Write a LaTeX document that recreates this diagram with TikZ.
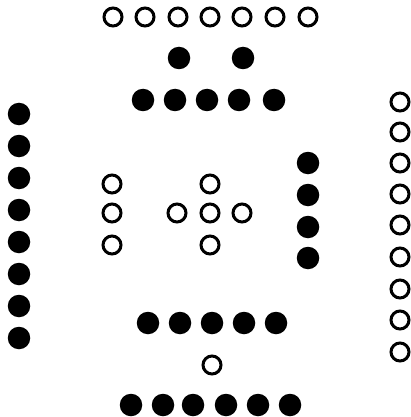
\documentclass[tikz,border=0pt]{standalone}
\begin{document}
\begin{tikzpicture}[x=1pt,y=-1pt,
  full/.style={circle,fill=black,inner sep=0pt,minimum size=22.5pt},
  hollow/.style={circle,draw=black,line width=3pt,inner sep=0pt,minimum size=18pt}]
\useasboundingbox (0,0) rectangle (411,417);
% top row of open circles
\foreach \x [count=\i] in {113,145,178,210,242,275,308}
  \node[hollow] (top\i) at (\x,17) {};
% two filled
\foreach \x [count=\i] in {179,243}
  \node[full] (pair\i) at (\x,58) {};
% row of five filled
\foreach \x [count=\i] in {143,175,207,239,274}
  \node[full] (five\i) at (\x,100) {};
% left column filled
\foreach \y [count=\i] in {114,146,178,210,242,274,306,338}
  \node[full] (left\i) at (19,\y) {};
% right column open
\foreach \y [count=\i] in {102,132,163,194,225,257,289,320,352}
  \node[hollow] (right\i) at (400,\y) {};
% right inner column filled
\foreach \y [count=\i] in {163,195,227,258}
  \node[full] (inner\i) at (308,\y) {};
% center-left open column
\foreach \y [count=\i] in {184,213,245}
  \node[hollow] (cl\i) at (112,\y) {};
% cross of open circles
\node[hollow] (crossT) at (210,184) {};
\node[hollow] (crossL) at (177,213) {};
\node[hollow] (crossC) at (210,213) {};
\node[hollow] (crossR) at (242,213) {};
\node[hollow] (crossB) at (210,245) {};
% bottom five filled
\foreach \x [count=\i] in {148,180,212,244,276}
  \node[full] (low\i) at (\x,323) {};
% single open
\node[hollow] (single) at (212,365) {};
% bottom six filled
\foreach \x [count=\i] in {131,163,193,226,258,290}
  \node[full] (bot\i) at (\x,405) {};
\end{tikzpicture}
\end{document}
